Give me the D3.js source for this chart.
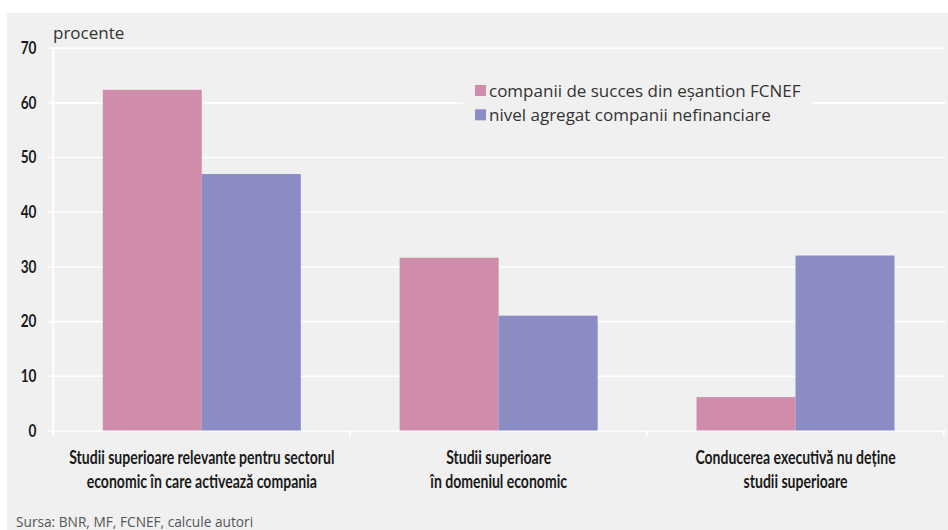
<!DOCTYPE html>
<html>
<head>
<meta charset="utf-8">
<script src="https://cdn.jsdelivr.net/npm/d3@7"></script>
<style>
  html, body { margin: 0; padding: 0; background: #ffffff; }
  svg { display: block; }
</style>
</head>
<body>
<svg id="chart" width="948" height="530"></svg>
<script>
// Category labels (two lines each)
const categories = [
  ["Studii superioare relevante pentru sectorul", "economic în care activează compania"],
  ["Studii superioare", "în domeniul economic"],
  ["Conducerea executivă nu deține", "studii superioare"]
];
const seriesNames = [
  "companii de succes din eșantion FCNEF",
  "nivel agregat companii nefinanciare"
];
const successValues = [62.3, 31.6, 6.1];
const aggregateValues = [46.9, 21.0, 32.0];
const yTicks = [0, 10, 20, 30, 40, 50, 60, 70];
const seriesColors = ["#cf8dab", "#8a8cc3"];
const unitLabel = "procente";
const sourceNote = "Sursa: BNR, MF, FCNEF, calcule autori";

const svg = d3.select("#chart");
const W = 948, H = 530;

// panel background
svg.append("rect").attr("x", 7).attr("y", 13).attr("width", W - 7).attr("height", H - 13)
  .attr("fill", "#f0f0f0");

const y = d3.scaleLinear().domain([0, 70]).range([430.5, 47.7]);
const x = d3.scaleBand().domain(d3.range(categories.length)).range([53.3, 944])
  .paddingInner(0.333).paddingOuter(0.1667);
const xs = d3.scaleBand().domain([0, 1]).range([0, x.bandwidth()]);

// horizontal gridlines
svg.append("g").attr("transform", "translate(48,0)")
  .call(d3.axisRight(y).tickValues(yTicks).tickSize(945.5 - 48).tickFormat(""))
  .call(g => g.select(".domain").remove())
  .call(g => g.selectAll(".tick line").attr("stroke", "#ffffff").attr("stroke-width", 1.6));

// vertical axis line
svg.append("line").attr("x1", 53.3).attr("x2", 53.3).attr("y1", y(70)).attr("y2", y(0) + 6)
  .attr("stroke", "#ffffff").attr("stroke-width", 2);

// category boundary ticks
const step = x.step();
const bounds = d3.range(categories.length + 1).map(i => x.range()[0] + i * step);
svg.append("g").selectAll("line").data(bounds).join("line")
  .attr("x1", d => d).attr("x2", d => d)
  .attr("y1", y(0)).attr("y2", y(0) + 6)
  .attr("stroke", "#ffffff").attr("stroke-width", 1.6);

// legend backdrop
const legend = svg.append("g");
legend.append("rect").attr("x", 463).attr("y", 74).attr("width", 350).attr("height", 56)
  .attr("fill", "#f0f0f0");

// bars
const series = [successValues, aggregateValues];
series.forEach((vals, s) => {
  svg.append("g").selectAll("rect").data(vals).join("rect")
    .attr("x", (d, i) => x(i) + xs(s))
    .attr("width", xs.bandwidth())
    .attr("y", d => y(d))
    .attr("height", d => y(0) - y(d))
    .attr("fill", seriesColors[s]);
});

// y tick labels (condensed bold)
svg.append("g").selectAll("g").data(yTicks).join("g")
  .attr("transform", d => `translate(36.5,${y(d)}) scale(0.8,1)`)
  .append("text")
  .attr("text-anchor", "end").attr("dy", "0.36em")
  .attr("font-family", "Lato, 'Open Sans', sans-serif").attr("font-weight", 700)
  .attr("font-size", 17).attr("fill", "#1a1a1a")
  .text(d => d);

// category labels (condensed bold)
const cl = svg.append("g").selectAll("g").data(categories).join("g")
  .attr("transform", (d, i) => `translate(${x(i) + x.bandwidth() / 2},0) scale(0.78,1)`);
cl.each(function(lines) {
  d3.select(this).selectAll("text").data(lines).join("text")
    .attr("x", 0).attr("y", (d, j) => 464 + j * 24)
    .attr("text-anchor", "middle")
    .attr("font-family", "Lato, 'Open Sans', sans-serif").attr("font-weight", 700)
    .attr("font-size", 18).attr("fill", "#1a1a1a")
    .text(d => d);
});

// unit label
svg.append("text").attr("x", 53).attr("y", 39)
  .attr("font-family", "'Open Sans', sans-serif").attr("font-size", 17)
  .attr("fill", "#333333").text(unitLabel);

// legend entries
seriesNames.forEach((name, s) => {
  const ly = 85 + s * 24.3;
  legend.append("rect").attr("x", 475).attr("y", ly).attr("width", 11).attr("height", 11)
    .attr("fill", seriesColors[s]);
  legend.append("text").attr("x", 489).attr("y", ly + 11.5)
    .attr("font-family", "'Open Sans', sans-serif").attr("font-size", 17)
    .attr("fill", "#333333").text(name);
});

// source note
svg.append("text").attr("x", 16).attr("y", 527)
  .attr("font-family", "'Open Sans', sans-serif").attr("font-size", 13.7)
  .attr("fill", "#555555").text(sourceNote);
</script>
</body>
</html>
